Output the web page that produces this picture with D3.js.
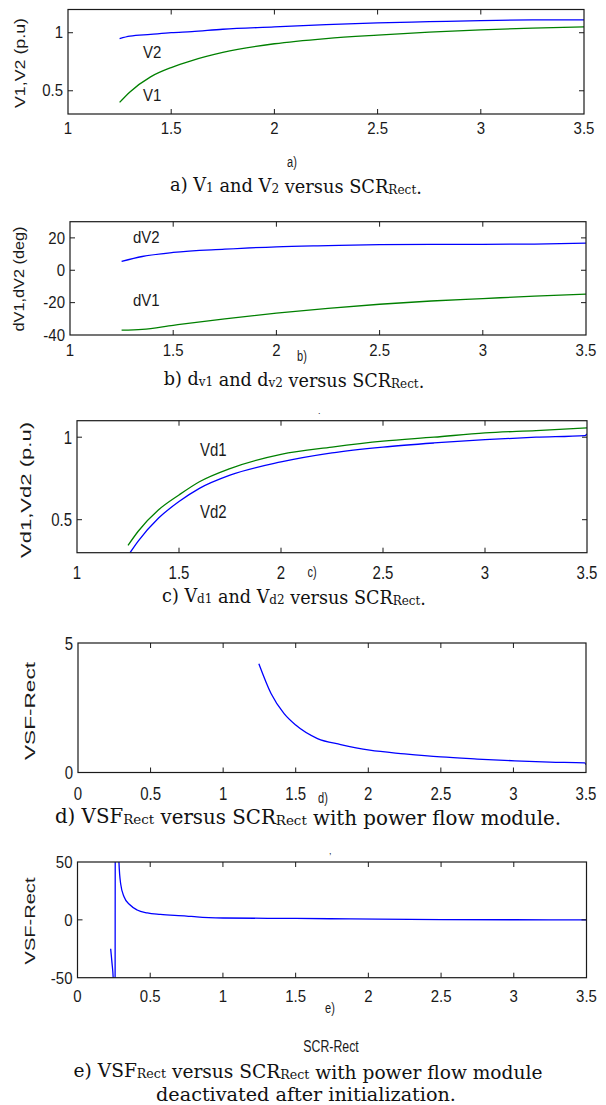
<!DOCTYPE html>
<html>
<head>
<meta charset="utf-8">
<script src="https://cdn.jsdelivr.net/npm/d3@7"></script>
<style>
  body { margin: 0; background: #fff; }
  svg { display: block; }
</style>
</head>
<body>
<div id="vis"></div>
<script>
// Values, panel by panel.
// a) V1, V2 (p.u) versus SCR
const scrA = [1.25, 1.3, 1.4, 1.5, 1.6, 1.75, 2.0, 2.25, 2.5, 2.75, 3.0, 3.25, 3.5];
const v1 = [0.40, 0.49, 0.62, 0.70, 0.76, 0.83, 0.905, 0.95, 0.98, 1.005, 1.025, 1.04, 1.05];
const v2 = [0.95, 0.97, 0.985, 1.0, 1.01, 1.03, 1.05, 1.07, 1.085, 1.095, 1.105, 1.11, 1.11];

// b) dV1, dV2 (deg) versus SCR
const scrB = [1.25, 1.35, 1.5, 1.75, 2.0, 2.25, 2.5, 2.75, 3.0, 3.25, 3.5];
const dV1 = [-37, -36.5, -34, -30, -26.5, -23.5, -21, -19, -17.5, -16, -14.8];
const dV2 = [5.5, 8.5, 11, 13, 14.5, 15.2, 15.8, 16, 16, 16.2, 16.8];

// c) Vd1, Vd2 (p.u) versus SCR
const scrC1 = [1.25, 1.3, 1.4, 1.5, 1.6, 1.75, 2.0, 2.25, 2.5, 2.75, 3.0, 3.25, 3.5];
const vd1 = [0.344, 0.43, 0.56, 0.65, 0.73, 0.81, 0.896, 0.94, 0.976, 1.0, 1.026, 1.04, 1.056];
const scrC2 = [1.26, 1.3, 1.4, 1.5, 1.6, 1.75, 2.0, 2.25, 2.5, 2.75, 3.0, 3.25, 3.49, 3.5];
const vd2 = [0.30, 0.37, 0.51, 0.61, 0.69, 0.77, 0.85, 0.905, 0.94, 0.965, 0.985, 1.0, 1.01, 1.02];

// d) VSF with power flow module
const scrD = [1.246, 1.33, 1.42, 1.5, 1.65, 1.81, 2.01, 2.25, 2.5, 2.75, 3.01, 3.25, 3.49, 3.5];
const vsfD = [4.2, 3.05, 2.27, 1.83, 1.31, 1.08, 0.86, 0.72, 0.60, 0.52, 0.45, 0.40, 0.37, 0.3];

// e) VSF with power flow module deactivated after initialization
const scrE = [0.228, 0.237, 0.246, 0.256, 0.262, 0.285, 0.297, 0.32, 0.36, 0.41, 0.48, 0.57, 0.75, 0.82, 1.0, 1.5, 1.88, 2.5, 3.0, 3.5];
const vsfE = [-25, -37, -52, -300, 300, 50, 31, 20, 13, 8.5, 6, 4.7, 3.3, 2.5, 1.6, 1.2, 0.8, 0.2, 0.1, 0];

// Tick values.
const xTicks1 = [1, 1.5, 2, 2.5, 3, 3.5];
const xTicks0 = [0, 0.5, 1, 1.5, 2, 2.5, 3, 3.5];
const yTicksA = [0.5, 1];
const yTicksB = [-40, -20, 0, 20];
const yTicksC = [0.5, 1];
const yTicksD = [0, 5];
const yTicksE = [-50, 0, 50];

// Colours.
const blue = "#0000ff";
const green = "#008000";
const ink = "#1a1a1a";
const axisFont = "'Liberation Sans', Arial, sans-serif";
const capFont = "'DejaVu Serif', serif";

const svg = d3.select("#vis")
  .append("svg")
    .attr("width", 606)
    .attr("height", 1105);

svg.append("rect").attr("width", 606).attr("height", 1105).attr("fill", "#fff");

function zip(xs, ys) {
  return xs.map((x, i) => [x, ys[i]]);
}

// One MATLAB-like axes box.
function panel(cfg) {
  const x = d3.scaleLinear().domain(cfg.xDom).range([cfg.left, cfg.right]);
  const y = d3.scaleLinear().domain(cfg.yDom).range([cfg.bottom, cfg.top]);
  const g = svg.append("g");
  const tick = 5;

  g.append("clipPath").attr("id", "clip-" + cfg.id)
    .append("rect")
      .attr("x", cfg.left).attr("y", cfg.top)
      .attr("width", cfg.right - cfg.left).attr("height", cfg.bottom - cfg.top);

  // Lines.
  const line = d3.line().x(d => x(d[0])).y(d => y(d[1])).curve(d3.curveMonotoneX);
  cfg.series.forEach(s => {
    g.append("path")
      .datum(zip(s.x, s.y))
      .attr("clip-path", "url(#clip-" + cfg.id + ")")
      .attr("d", line)
      .attr("fill", "none")
      .attr("stroke", s.color)
      .attr("stroke-width", 1.3);
  });

  // Box and inward ticks.
  g.append("rect")
    .attr("x", cfg.left).attr("y", cfg.top)
    .attr("width", cfg.right - cfg.left).attr("height", cfg.bottom - cfg.top)
    .attr("fill", "none").attr("stroke", ink).attr("stroke-width", 1.2);

  cfg.xTicks.forEach(v => {
    const px = x(v);
    if (px > cfg.left + 1 && px < cfg.right - 1) {
      g.append("line").attr("x1", px).attr("x2", px)
        .attr("y1", cfg.bottom).attr("y2", cfg.bottom - tick).attr("stroke", ink);
      g.append("line").attr("x1", px).attr("x2", px)
        .attr("y1", cfg.top).attr("y2", cfg.top + tick).attr("stroke", ink);
    }
    g.append("text")
      .attr("transform", "translate(" + px + "," + cfg.xLabelY + ") scale(1," + cfg.stretch + ")")
      .attr("text-anchor", "middle")
      .style("font-family", axisFont)
      .style("font-size", "15px")
      .style("fill", ink)
      .text(String(v));
  });

  cfg.yTicks.forEach(v => {
    const py = y(v);
    if (py > cfg.top + 1 && py < cfg.bottom - 1) {
      g.append("line").attr("y1", py).attr("y2", py)
        .attr("x1", cfg.left).attr("x2", cfg.left + tick).attr("stroke", ink);
      g.append("line").attr("y1", py).attr("y2", py)
        .attr("x1", cfg.right).attr("x2", cfg.right - tick).attr("stroke", ink);
    }
    g.append("text")
      .attr("transform", "translate(" + (cfg.left - 5) + "," + py + ") scale(1," + cfg.stretch + ")")
      .attr("text-anchor", "end")
      .attr("dy", "0.36em")
      .style("font-family", axisFont)
      .style("font-size", "15px")
      .style("fill", ink)
      .text(String(v));
  });

  // Y label, rotated.
  g.append("text")
    .attr("transform", "translate(" + cfg.yLabel[0] + "," + cfg.yLabel[1] + ") rotate(-90)")
    .attr("text-anchor", "middle")
    .attr("dy", "0.36em")
    .attr("textLength", cfg.yLabel[2])
    .attr("lengthAdjust", "spacingAndGlyphs")
    .style("font-family", axisFont)
    .style("font-size", "15.5px")
    .style("fill", ink)
    .text(cfg.yText);

  // Curve labels.
  (cfg.notes || []).forEach(n => {
    g.append("text")
      .attr("transform", "translate(" + n[1] + "," + n[2] + ") scale(1," + cfg.stretch + ")")
      .style("font-family", axisFont)
      .style("font-size", "15px")
      .style("fill", ink)
      .text(n[0]);
  });

  // Small panel letter under the axis.
  g.append("text")
    .attr("transform", "translate(" + cfg.letter[1] + "," + cfg.letter[2] + ") scale(0.85,1.1)")
    .attr("text-anchor", "middle")
    .style("font-family", axisFont)
    .style("font-size", "13px")
    .style("fill", ink)
    .text(cfg.letter[0]);
}

// Serif caption with subscripts.
function caption(parts, cx, by, size) {
  const t = svg.append("text")
    .attr("x", cx).attr("y", by)
    .attr("text-anchor", "middle")
    .style("font-family", capFont)
    .style("font-size", size + "px")
    .style("fill", "#111");
  parts.forEach(p => {
    if (typeof p === "string") {
      t.append("tspan").text(p);
    } else {
      t.append("tspan").attr("dy", 1).style("font-size", (size * 0.68) + "px").text(p.sub);
      t.append("tspan").attr("dy", -1).text("");
    }
  });
}

panel({
  id: "a", left: 68, right: 584, top: 9.5, bottom: 114,
  xDom: [1, 3.5], yDom: [0.3, 1.2], xTicks: xTicks1, yTicks: yTicksA,
  xLabelY: 134, stretch: 1.05,
  yLabel: [19, 63, 90], yText: "V1,V2 (p.u)",
  series: [{x: scrA, y: v2, color: blue}, {x: scrA, y: v1, color: green}],
  notes: [["V2", 143, 58], ["V1", 143, 101]],
  letter: ["a)", 292, 167]
});
caption(["a) V", {sub: "1"}, " and V", {sub: "2"}, " versus SCR", {sub: "Rect"}, "."], 296, 191, 17.8);

panel({
  id: "b", left: 70, right: 586, top: 221.7, bottom: 335,
  xDom: [1, 3.5], yDom: [-40, 30], xTicks: xTicks1, yTicks: yTicksB,
  xLabelY: 356, stretch: 1.05,
  yLabel: [18, 279, 105], yText: "dV1,dV2 (deg)",
  series: [{x: scrB, y: dV2, color: blue}, {x: scrB, y: dV1, color: green}],
  notes: [["dV2", 133, 243], ["dV1", 133, 306]],
  letter: ["b)", 302, 361]
});
caption(["b) d", {sub: "v1"}, " and d", {sub: "v2"}, " versus SCR", {sub: "Rect"}, "."], 294, 385, 17.6);

panel({
  id: "c", left: 77, right: 587, top: 420.7, bottom: 552.7,
  xDom: [1, 3.5], yDom: [0.3, 1.1], xTicks: xTicks1, yTicks: yTicksC,
  xLabelY: 579, stretch: 1.25,
  yLabel: [25, 490, 136], yText: "Vd1,Vd2 (p.u)",
  series: [{x: scrC1, y: vd1, color: green}, {x: scrC2, y: vd2, color: blue}],
  notes: [["Vd1", 200, 456], ["Vd2", 200, 518]],
  letter: ["c)", 312, 577]
});
svg.append("text").attr("x", 318).attr("y", 414).style("font-size", "9px")
  .style("font-family", axisFont).style("fill", ink).text(".");
caption(["c) V", {sub: "d1"}, " and V", {sub: "d2"}, " versus SCR", {sub: "Rect"}, "."], 294, 602, 17.6);

panel({
  id: "d", left: 78, right: 586, top: 643, bottom: 772.5,
  xDom: [0, 3.5], yDom: [0, 5], xTicks: xTicks0, yTicks: yTicksD,
  xLabelY: 800, stretch: 1.25,
  yLabel: [29, 711, 98], yText: "VSF-Rect",
  series: [{x: scrD, y: vsfD, color: blue}],
  letter: ["d)", 323, 803]
});
caption(["d) VSF", {sub: "Rect"}, " versus SCR", {sub: "Rect"}, " with power flow module."], 308, 823, 19.8);

panel({
  id: "e", left: 77.5, right: 586.5, top: 862, bottom: 977.7,
  xDom: [0, 3.5], yDom: [-50, 50], xTicks: xTicks0, yTicks: yTicksE,
  xLabelY: 1002, stretch: 1.15,
  yLabel: [29, 921, 87], yText: "VSF-Rect",
  series: [{x: scrE, y: vsfE, color: blue}],
  letter: ["e)", 330, 1013]
});
svg.append("text").attr("x", 329).attr("y", 854).style("font-size", "9px")
  .style("font-family", axisFont).style("fill", ink).text(",");
svg.append("text")
  .attr("transform", "translate(331,1052) scale(0.88,1.15)")
  .attr("text-anchor", "middle")
  .style("font-family", axisFont).style("font-size", "14px").style("fill", ink)
  .text("SCR-Rect");
caption(["e) VSF", {sub: "Rect"}, " versus SCR", {sub: "Rect"}, " with power flow module"], 308, 1077, 18.6);
caption(["deactivated after initialization."], 306, 1101, 19.2);
</script>
</body>
</html>
